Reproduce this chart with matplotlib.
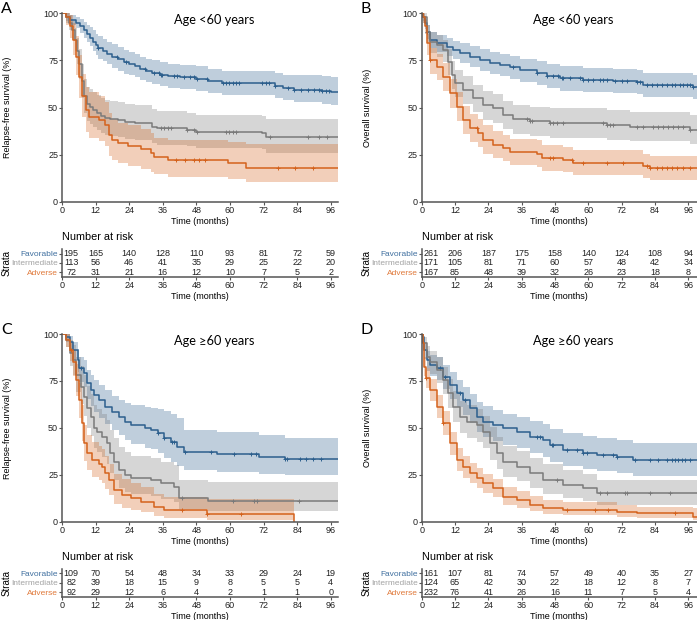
import numpy as np
import matplotlib
matplotlib.use("Agg")
import matplotlib.pyplot as plt

plt.rcParams['font.family'] = ['Liberation Sans', 'DejaVu Sans']

# ---- colours
BLUE = '#2C5F8D'
GRAY = '#7A7A7A'
ORANGE = '#D4621C'
LAB_COL = ['#3F6F9F', '#A3A3A3', '#E0793A']

strata = ['Favorable', 'Intermediate', 'Adverse']
risk_times = [0, 12, 24, 36, 48, 60, 72, 84, 96]

# ================= Panel A : RFS, age < 60 =================
a_fav_t = [0, 1.5, 3, 5, 6.5, 8, 9, 10, 11, 12, 13, 14.5, 16, 18, 20, 22, 24, 26, 28, 30, 32, 35, 38, 42, 48, 52, 57, 76, 79, 83, 93, 96]
a_fav_s = [100, 98, 96.5, 95, 93, 91, 89, 87, 85, 83, 81.5, 80, 78.5, 77, 75.5, 74, 73, 72, 70.5, 69.5, 68.5, 67.5, 66.5, 66, 65.2, 64, 62.8, 61.5, 60.5, 59.5, 58.9, 58.2]
a_fav_lo = [100, 96, 94, 92, 89.5, 87, 85, 82.5, 80, 78, 76, 74.5, 73, 71, 69.5, 68, 67, 66, 64.5, 63.5, 62.5, 61.5, 60.5, 60, 59, 57.5, 56.5, 55, 54, 53, 52, 51.3]
a_fav_hi = [100, 100, 99, 98, 97, 95.5, 94, 92.5, 91, 89, 88, 86.5, 85, 83.5, 82, 80.5, 79.5, 78.5, 77, 76, 75, 74, 73, 72.5, 72, 70.5, 69.5, 68.5, 67.5, 67, 66.5, 66]
a_fav_cens = [13, 19.5, 23, 29.5, 33, 34.5, 35.2, 35.8, 40, 41.2, 43.5, 45.8, 47, 48.2, 51.7, 57.5, 58.7, 59.8, 61, 62, 63.3, 71.5, 72.7, 73.8, 76, 80.8, 83, 85.5, 87.8, 90.2, 91.9, 93, 94.2, 95.4]

a_int_t = [0, 1.5, 2.5, 3.5, 4.5, 5.5, 6.2, 7, 8, 9, 10, 11, 12.5, 14, 15.5, 17, 20, 22.5, 26, 32, 34, 44.7, 48, 71.5, 72.7]
a_int_s = [100, 98, 95, 91, 86, 80, 73, 64, 56, 52, 50.5, 48.5, 47, 45.5, 44.5, 44, 43.4, 42.5, 42, 39.8, 38.9, 38, 36.8, 36.3, 34.2]
a_int_lo = [100, 95, 91, 86, 80, 73, 65, 55, 47, 43, 41.5, 39.5, 38, 36.5, 35.5, 35, 34.5, 33.5, 33, 31, 30, 29.5, 28.5, 28, 25.7]
a_int_hi = [100, 100, 99, 96, 92, 87, 81, 73, 65, 61, 60, 58, 56.5, 55, 54, 53.5, 53, 52, 51.5, 49, 48, 47, 46, 45.5, 44]
a_int_cens = [35.3, 36.5, 37.7, 38.8, 44.7, 47, 48.2, 58.7, 59.8, 61, 62.2, 74.4, 87.8, 91.9, 94.8]

a_adv_t = [0, 1.5, 2.7, 3.8, 5, 6.2, 7.3, 8.5, 9.7, 13.2, 15.5, 16.7, 17.8, 20, 23.7, 28.3, 31.8, 33, 37.7, 59.3, 65.7]
a_adv_s = [100, 98, 93, 86, 77, 66, 56, 48.7, 45, 43.4, 40.7, 35.4, 32.7, 31, 29.6, 27.8, 26, 23.9, 22.1, 20.4, 17.7]
a_adv_lo = [100, 94, 87, 78, 67, 55, 45, 37, 34, 32, 29.5, 24.5, 22, 20.5, 19, 17.5, 16, 14.5, 13, 12, 10.5]
a_adv_hi = [100, 100, 99, 95, 88, 78, 68, 61, 58, 56, 53, 47, 44, 42, 40.5, 38.5, 36.5, 34, 32.5, 31.5, 30.5]
a_adv_cens = [40.6, 44, 47, 48.8, 51, 77.3, 83.2, 89.6]

a_risk_fav = [195, 165, 140, 128, 110, 93, 81, 72, 59]
a_risk_int = [113, 56, 46, 41, 35, 29, 25, 22, 20]
a_risk_adv = [72, 31, 21, 16, 12, 10, 7, 5, 2]

# ================= Panel B : OS, age < 60 =================
b_fav_t = [0, 0.6, 1.2, 1.8, 3, 5.4, 9, 11.4, 13.8, 17.4, 21, 24.6, 28.2, 31.8, 35.4, 41.4, 45, 49.8, 58.2, 69, 77.4, 79.8, 97.8]
b_fav_s = [100, 98, 94.7, 90.3, 85.8, 84, 82.3, 80.5, 78.8, 77, 75.2, 73.8, 72.6, 71.3, 69.9, 68.1, 66.7, 65.5, 64.6, 64.2, 63.7, 61.9, 60.7]
b_fav_lo = [100, 96, 91.5, 86.5, 81.5, 79.5, 77.5, 75.5, 73.5, 71.5, 69.5, 68, 66.5, 65, 63.5, 62, 60.5, 59, 58, 57.5, 57, 55.5, 54.5]
b_fav_hi = [100, 99.5, 97, 94, 90, 88.5, 87, 85.5, 84, 82.5, 81, 79.5, 78.5, 77.5, 76, 74.5, 73, 72, 71, 70.5, 70, 68.5, 67.5]
b_fav_cens = [1.8, 33, 41.4, 45, 47.4, 49.2, 50.4, 51, 53.4, 57, 58.2, 60, 61.8, 64.2, 65.4, 66.6, 69.6, 72, 73.8, 77.4, 78.6, 81, 82.8, 84.6, 86.4, 88.2, 90, 91.2, 93, 94.2, 95.4, 96.6, 97.8]

b_int_t = [0, 0.6, 1.8, 3, 5.4, 7.8, 9.6, 10.8, 12, 15, 18.6, 22.2, 25.8, 29.4, 33, 39, 46.2, 66.6, 75, 96.6]
b_int_s = [100, 98, 90, 85, 83.2, 80.5, 74.3, 67.3, 62.8, 59.3, 54.9, 51.3, 49.6, 46, 43.9, 43, 41.9, 40.7, 39.5, 38]
b_int_lo = [100, 95, 85, 79, 77, 74, 67.5, 60, 55.5, 52, 47.5, 43.5, 42, 38.5, 36, 35, 34, 33, 32, 30.5]
b_int_hi = [100, 100, 94, 90, 88.5, 86, 81, 74.5, 70, 66.5, 62, 58.5, 57, 53.5, 51.5, 50.5, 49.5, 48.5, 47.5, 46]
b_int_cens = [37.8, 39, 39.6, 46.2, 47.4, 48.6, 51, 65.4, 66.6, 67.8, 69, 77.4, 79.8, 83.4, 85.2, 87, 88.8, 90.6, 92.4, 94.2, 96.6]

b_adv_t = [0, 0.6, 1.2, 2, 3, 5.4, 7.8, 10.2, 12.6, 15, 17.4, 20.4, 22.2, 25.8, 29.4, 31.8, 41.4, 43.2, 51, 54.6, 79.8, 82.2]
b_adv_s = [100, 98, 93, 84, 75, 71.7, 66.4, 57.5, 50.4, 43.4, 38.9, 36.3, 32.7, 30.1, 28.3, 26.5, 25.3, 23, 22.1, 20.7, 18.9, 17.7]
b_adv_lo = [100, 95, 89, 78, 68, 64.5, 59, 50, 43, 36, 31.5, 29, 25.5, 23, 21.5, 19.5, 18.5, 16.5, 15.5, 14, 12.5, 11.5]
b_adv_hi = [100, 100, 96.5, 89, 81.5, 78.5, 73.5, 65, 58, 51, 46.5, 44, 40.5, 37.5, 35.5, 33.5, 32.5, 30, 29, 27.5, 25.5, 24.5]
b_adv_cens = [3, 19.8, 46.2, 47.4, 54, 58.2, 66.6, 72.6, 81, 82.2, 84.6, 86.4, 88.2, 90, 91.8, 94.2, 96.6]

b_risk_fav = [261, 206, 187, 175, 158, 140, 124, 108, 94]
b_risk_int = [171, 105, 81, 71, 60, 57, 48, 42, 34]
b_risk_adv = [167, 85, 48, 39, 32, 26, 23, 18, 8]

# ================= Panel C : RFS, age >= 60 =================
c_fav_t = [0, 1.5, 2.7, 3.8, 5.6, 6.2, 7.9, 9, 10.3, 11.4, 13.2, 15.5, 17.8, 20.2, 22.5, 24.8, 29.5, 31.8, 34.2, 36.5, 38.8, 41.2, 43.5, 55.2, 70.3, 79.7]
c_fav_s = [100, 98.6, 96, 91.5, 86, 81.7, 79, 73.7, 70.2, 67.5, 64.8, 61.3, 58.6, 56, 53.3, 51.5, 49.7, 48.8, 47, 44.4, 42.6, 39.9, 37.3, 36, 34.6, 33.2]
c_fav_lo = [100, 96, 92, 86, 79.5, 74.5, 71.5, 65.5, 61.5, 58.5, 55.5, 52, 49, 46, 43.5, 41.5, 39.5, 38.5, 36.5, 34, 32, 29.5, 27.5, 26.5, 25.5, 25]
c_fav_hi = [100, 100, 99, 96, 92, 88, 86, 81, 78, 75.5, 73, 70, 67, 65, 63.5, 62, 61, 60.5, 60, 59, 57.5, 55.5, 49, 48, 46, 44.4]
c_fav_cens = [6.8, 34.2, 36.5, 39.4, 40, 44, 53.4, 61.6, 67.4, 69.2, 79.7, 80.3, 84.9, 87.3, 89.6, 92.5]

c_int_t = [0, 1.5, 2.7, 3.8, 5, 6.8, 7.9, 9, 10.3, 11.4, 12.6, 14.3, 16.1, 17.3, 18.4, 20.2, 22.5, 24.8, 31.8, 35.3, 40, 41.8, 52.3]
c_int_s = [100, 96.8, 89.7, 86, 78, 72, 66.6, 60.4, 56, 49.7, 47.9, 45.3, 41.7, 36.4, 32, 27.5, 24.9, 23.1, 22.2, 20.4, 18.6, 12.4, 11.2]
c_int_lo = [100, 93, 83, 78, 69, 62.5, 56.5, 50, 45.5, 39, 37, 34.5, 31, 26, 22, 18, 16, 14.5, 13.5, 12, 10.5, 6.5, 5.8]
c_int_hi = [100, 100, 97, 94, 88, 83, 78, 72.5, 68, 62, 60, 57.5, 54, 49, 44.5, 40, 37, 35, 34, 32, 30, 22, 21]
c_int_cens = [43, 61, 68.6, 69.8, 84.6]

c_adv_t = [0, 1.5, 2.7, 3.8, 5, 6.2, 7.3, 7.9, 9, 10.8, 13.2, 14.3, 15.5, 16.7, 18.4, 21.3, 24.8, 28.3, 33, 36.5, 51.7, 82.8]
c_adv_s = [100, 97, 91.5, 85, 75.5, 64.8, 52.4, 41.7, 36.4, 32.9, 31, 29.3, 25.8, 22.2, 16.9, 14.2, 12.4, 10.7, 8, 6.2, 4, 0]
c_adv_lo = [100, 93, 85.5, 77.5, 67, 55.5, 43, 32.5, 27.5, 24, 22, 20.5, 17.5, 14, 9.5, 7.5, 6, 5, 3, 2, 0.8, 0]
c_adv_hi = [100, 100, 96, 91.5, 84, 74, 62, 51.5, 46, 42.5, 40.5, 38.5, 35, 31, 25.5, 22.5, 20.5, 18.5, 15, 13, 12, 0]
c_adv_cens = [3.3, 43, 51.7, 63.9]

c_risk_fav = [109, 70, 54, 48, 34, 33, 29, 24, 19]
c_risk_int = [82, 39, 18, 15, 9, 8, 5, 5, 4]
c_risk_adv = [92, 29, 12, 6, 4, 2, 1, 1, 0]

# ================= Panel D : OS, age >= 60 =================
d_fav_t = [0, 0.4, 0.9, 1.8, 3, 5.4, 7.8, 10.2, 12.6, 15, 17.4, 19.8, 22.2, 25.8, 29.4, 34.2, 39, 43.8, 46.2, 51, 58.2, 63, 70.2, 76.2]
d_fav_s = [100, 98.6, 91.5, 86, 83.5, 81.7, 77.3, 72.8, 68.4, 64.8, 60.4, 56, 53.3, 51.5, 49.7, 47.9, 45.3, 43.5, 40.9, 38.2, 36.8, 35.5, 34.6, 32.9]
d_fav_lo = [100, 96, 86.5, 80.5, 77.5, 75.5, 70.5, 65.5, 61, 57, 52.5, 48, 45, 43, 41, 39, 36.5, 34.5, 32, 29.5, 28, 27, 26, 24.5]
d_fav_hi = [100, 100, 95.5, 91, 89, 87.5, 83.5, 79.5, 75.5, 72, 68, 64, 61.5, 59.5, 57.5, 56, 53.5, 52, 49.5, 47, 45.5, 44.5, 43.5, 42]
d_fav_cens = [6.6, 8.4, 13.8, 15.6, 41.4, 42.6, 46.8, 47.4, 52.2, 55.8, 58.2, 59.4, 65.4, 69, 70.2, 76.8, 82.2, 85.2, 88.2, 90, 91.2, 92.4, 93.6, 94.8, 96.6]

d_int_t = [0, 0.6, 1.8, 3, 5.4, 7.8, 9.6, 11.4, 13.8, 16.2, 19.8, 22.2, 24.6, 27, 29.4, 34.2, 39, 43.8, 51, 58.2, 63]
d_int_s = [100, 95, 88, 85, 81, 75.5, 68.4, 61.3, 56, 53.3, 51.5, 47.9, 41.7, 36.4, 32, 29.3, 25.8, 22.2, 19.5, 17.8, 15.1]
d_int_lo = [100, 91, 82, 78.5, 74, 68, 60.5, 53, 47.5, 44.5, 42.5, 39, 33, 28, 24, 21.5, 18, 15, 12.5, 11, 9]
d_int_hi = [100, 98.5, 93.5, 91, 87.5, 82.5, 76, 69.5, 64.5, 62, 60, 56.5, 50.5, 45, 40.5, 37.5, 34, 30.5, 27.5, 25.5, 22]
d_int_cens = [48.6, 64.2, 66.6, 73.2, 73.8, 82.2, 89.4]

d_adv_t = [0, 0.4, 0.8, 1.6, 3, 5.4, 7.8, 10.2, 12.6, 15, 17.4, 19.8, 22.2, 25.8, 29.4, 34.2, 39, 43.8, 51, 70.2, 77.4, 97.8]
d_adv_s = [100, 95, 82.6, 76.4, 70.2, 61.3, 52.4, 41.7, 32.9, 29.3, 25.8, 23.1, 20.4, 17.8, 13.3, 11.5, 8.9, 7.1, 6.2, 5.3, 4.4, 2.7]
d_adv_lo = [100, 92, 77.5, 71, 64.5, 55, 46, 35.5, 27, 23.5, 20.5, 18, 15.5, 13, 9, 7.5, 5.5, 4, 3.5, 2.5, 2, 0.9]
d_adv_hi = [100, 97.5, 87.5, 82, 76, 67.5, 59, 48, 39, 35, 31.5, 28.5, 25.5, 23, 18.5, 16.5, 13.5, 11.5, 10.5, 9, 8, 7.1]
d_adv_cens = [1.6, 7.8, 52.2, 62.4, 67.2, 91.2]

d_risk_fav = [161, 107, 81, 74, 57, 49, 40, 35, 27]
d_risk_int = [124, 65, 42, 30, 22, 18, 12, 8, 7]
d_risk_adv = [232, 76, 41, 26, 16, 11, 7, 5, 4]

W, H = 697, 620
fig = plt.figure(figsize=(W / 100, H / 100), dpi=100)


def px_axes(x0, y0, x1, y1):
    return fig.add_axes([x0 / W, 1 - y1 / H, (x1 - x0) / W, (y1 - y0) / H])


def px_text(x, y, s, **kw):
    fig.text(x / W, 1 - y / H, s, **kw)


def style_axes(ax, xmax):
    for side in ['top', 'right']:
        ax.spines[side].set_visible(False)
    for side in ['left', 'bottom']:
        ax.spines[side].set_color('#555555')
        ax.spines[side].set_linewidth(1.1)
    ax.tick_params(length=2, width=0.8, color='#555555', pad=0.8, labelsize=6.5, labelcolor='#222222')
    ax.set_xlim(0, xmax)
    ax.set_xticks(risk_times)


def km(ax, t, s, lo, hi, end, cens, color):
    ax.fill_between(list(t) + [end], list(lo) + [lo[-1]], list(hi) + [hi[-1]],
                    step='post', color=color, alpha=0.3, lw=0)
    ax.step(list(t) + [end], list(s) + [s[-1]], where='post', color=color, lw=1.1)
    idx = np.searchsorted(t, cens, side='right') - 1
    ax.plot(cens, np.array(s)[idx], '+', color=color, ms=3.5, mew=0.7)


def panel(x0, x1, y0, y1, xmax, letter, title, ylabel, curves, ty0, ty1, risk):
    ax = px_axes(x0, y0, x1, y1)
    style_axes(ax, xmax)
    for c in curves:
        km(ax, *c)
    ax.set_ylim(0, 100)
    ax.set_yticks([0, 25, 50, 75, 100])
    ax.set_xlabel('Time (months)', fontsize=6.5, labelpad=1.5)
    ax.text(0.55, 0.965, title, transform=ax.transAxes, ha='center', va='center',
            fontsize=9.2, family=['Lato', 'DejaVu Sans'])
    px_text(x0 - 61, y0 - 11, letter, fontsize=11.5, family=['Lato', 'DejaVu Sans'], va='top', ha='left')
    px_text(x0 - 54.5, (y0 + y1) / 2, ylabel, rotation=90, ha='center', va='center', fontsize=6.5)

    # risk table
    rt = px_axes(x0, ty0, x1, ty1)
    style_axes(rt, xmax)
    rt.set_ylim(0, 3)
    rt.set_yticks([2.5, 1.5, 0.5])
    rt.set_yticklabels(strata, fontsize=6)
    for lab, col in zip(rt.get_yticklabels(), LAB_COL):
        lab.set_color(col)
    for row, vals in zip([2.5, 1.5, 0.5], risk):
        for tm, v in zip(risk_times, vals):
            rt.text(3.3 if tm == 0 else tm, row, str(v), ha='center', va='center',
                    fontsize=6.5, color='#222222')
    rt.set_xlabel('Time (months)', fontsize=6.5, labelpad=1.5)
    px_text(x0, ty0 - 11.5, 'Number at risk', fontsize=7.8, va='center', ha='left')
    px_text(x0 - 55, (ty0 + ty1) / 2, 'Strata', rotation=90, ha='center', va='center', fontsize=7)


panel(62, 338, 13.3, 201.7, 98.6, 'A', 'Age <60 years', 'Relapse-free survival (%)',
      [(a_fav_t, a_fav_s, a_fav_lo, a_fav_hi, 98.6, a_fav_cens, BLUE),
       (a_int_t, a_int_s, a_int_lo, a_int_hi, 98.6, a_int_cens, GRAY),
       (a_adv_t, a_adv_s, a_adv_lo, a_adv_hi, 98.6, a_adv_cens, ORANGE)],
      249, 276.7, [a_risk_fav, a_risk_int, a_risk_adv])

panel(421.7, 697, 13.3, 201.7, 99.1, 'B', 'Age <60 years', 'Overall survival (%)',
      [(b_fav_t, b_fav_s, b_fav_lo, b_fav_hi, 99.1, b_fav_cens, BLUE),
       (b_int_t, b_int_s, b_int_lo, b_int_hi, 99.1, b_int_cens, GRAY),
       (b_adv_t, b_adv_s, b_adv_lo, b_adv_hi, 99.1, b_adv_cens, ORANGE)],
      249, 276.7, [b_risk_fav, b_risk_int, b_risk_adv])

panel(62, 338, 334, 521.7, 98.6, 'C', 'Age \u226560 years', 'Relapse-free survival (%)',
      [(c_fav_t, c_fav_s, c_fav_lo, c_fav_hi, 98.6, c_fav_cens, BLUE),
       (c_int_t, c_int_s, c_int_lo, c_int_hi, 98.6, c_int_cens, GRAY),
       (c_adv_t, c_adv_s, c_adv_lo, c_adv_hi, 82.8, c_adv_cens, ORANGE)],
      568.5, 597, [c_risk_fav, c_risk_int, c_risk_adv])

panel(421.7, 697, 334, 521.7, 99.1, 'D', 'Age \u226560 years', 'Overall survival (%)',
      [(d_fav_t, d_fav_s, d_fav_lo, d_fav_hi, 99.1, d_fav_cens, BLUE),
       (d_int_t, d_int_s, d_int_lo, d_int_hi, 99.1, d_int_cens, GRAY),
       (d_adv_t, d_adv_s, d_adv_lo, d_adv_hi, 99.1, d_adv_cens, ORANGE)],
      568.5, 597, [d_risk_fav, d_risk_int, d_risk_adv])

fig.savefig('out.png', dpi=100)
